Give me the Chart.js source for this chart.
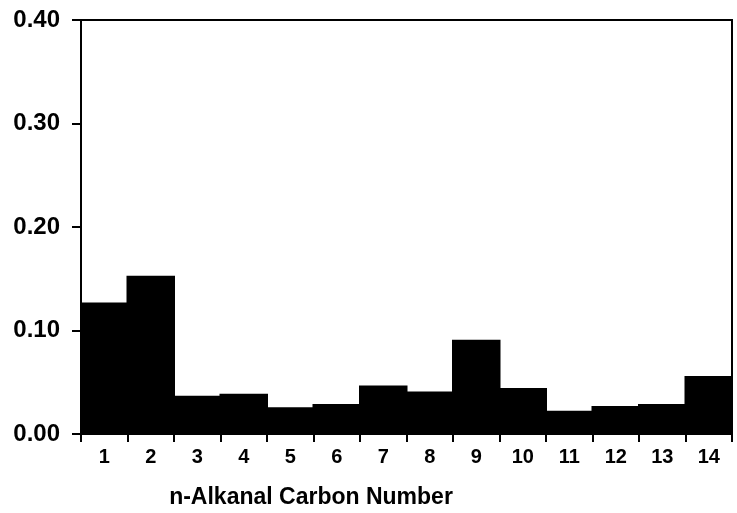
<!DOCTYPE html>
<html>
<head>
<meta charset="utf-8">
<script src="https://cdn.jsdelivr.net/npm/chart.js@4"></script>
<style>
  html, body { margin: 0; padding: 0; background: #fff; }
  #wrap { width: 737px; height: 513px; }
</style>
</head>
<body>
<div id="wrap"><canvas id="myChart" width="737" height="513"></canvas></div>
<script>
// chart data
var carbonNumbers = ['1', '2', '3', '4', '5', '6', '7', '8', '9', '10', '11', '12', '13', '14'];
var fractions = [0.126, 0.152, 0.036, 0.038, 0.025, 0.028, 0.046, 0.040, 0.090, 0.0435, 0.0215, 0.026, 0.028, 0.055];
var yTicks = [0, 0.1, 0.2, 0.3, 0.4];
var xTitle = 'n-Alkanal Carbon Number';

// frame round the plot + the off-centre axis title
var framePlugin = {
  id: 'frame',
  afterDraw: function (chart) {
    var ctx = chart.ctx, a = chart.chartArea;
    ctx.save();
    ctx.strokeStyle = '#000';
    ctx.lineWidth = 2;
    ctx.beginPath();
    ctx.moveTo(a.left, a.top);
    ctx.lineTo(a.right, a.top);
    ctx.lineTo(a.right, a.bottom);
    ctx.stroke();
    ctx.fillStyle = '#000';
    ctx.font = 'bold 23px "Liberation Sans", Arial, sans-serif';
    ctx.textAlign = 'center';
    ctx.textBaseline = 'middle';
    ctx.fillText(xTitle, a.left + 230, a.bottom + 64);
    ctx.restore();
  }
};

var ctx = document.getElementById('myChart').getContext('2d');
new Chart(ctx, {
  type: 'bar',
  data: {
    labels: carbonNumbers,
    datasets: [{
      data: fractions,
      backgroundColor: '#000',
      borderWidth: 0,
      inflateAmount: 1,
      barPercentage: 1,
      categoryPercentage: 1
    }]
  },
  options: {
    responsive: false,
    animation: false,
    layout: { padding: { top: 20, right: 5, left: 0, bottom: 0 } },
    plugins: {
      legend: { display: false },
      tooltip: { enabled: false }
    },
    scales: {
      x: {
        grid: {
          offset: true,
          drawOnChartArea: false,
          color: '#000',
          lineWidth: 2,
          tickLength: 8
        },
        border: { color: '#000', width: 2 },
        ticks: {
          color: '#000',
          padding: 3,
          maxRotation: 0,
          font: { family: '"Liberation Sans", Arial, sans-serif', size: 20, weight: 'bold' }
        },
        afterFit: function (scale) { scale.height = 79; }
      },
      y: {
        min: 0,
        max: 0.4,
        afterBuildTicks: function (scale) {
          scale.ticks = yTicks.map(function (v) { return { value: v }; });
        },
        grid: {
          drawOnChartArea: false,
          color: '#000',
          lineWidth: 2,
          tickLength: 9
        },
        border: { color: '#000', width: 2 },
        ticks: {
          color: '#000',
          padding: 12,
          font: { family: '"Liberation Sans", Arial, sans-serif', size: 24, weight: 'bold' },
          callback: function (v) { return Number(v).toFixed(2); }
        },
        afterFit: function (scale) {
          scale.width = 81;
          scale.paddingTop = 0;
          scale.paddingBottom = 0;
        }
      }
    }
  },
  plugins: [framePlugin]
});
</script>
</body>
</html>
